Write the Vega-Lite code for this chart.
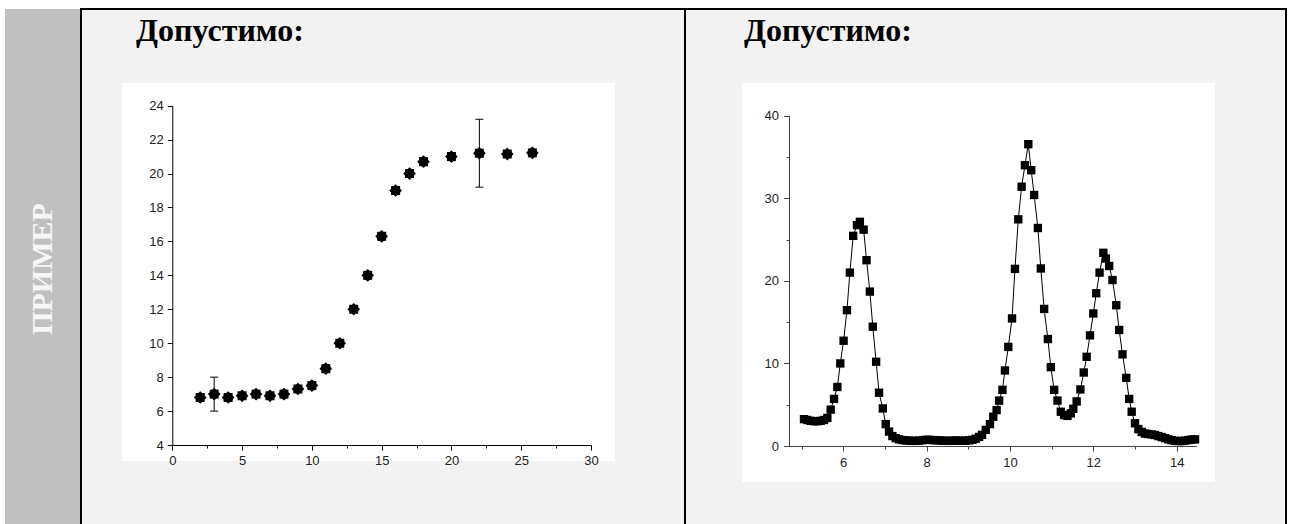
{
  "$schema": "https://vega.github.io/schema/vega-lite/v6.json",
  "background": "white",
  "padding": {"left": 5, "top": 8, "right": 0, "bottom": 0},
  "spacing": 0,
  "bounds": "flush",
  "config": {
    "view": {"stroke": "black", "strokeWidth": 2},
    "axis": {"grid": false, "labelFont": "Liberation Sans", "labelFontSize": 13, "labelColor": "#222", "labelFlush": false, "labelOverlap": false, "labelBound": false, "domainWidth": 1, "tickWidth": 1},
    "title": {"font": "Liberation Serif", "fontSize": 32, "fontWeight": "bold", "color": "black", "anchor": "start", "frame": "group", "baseline": "alphabetic"}
  },
  "datasets": {
    "one": [{}],
    "growth": [
      {"x": 2, "y": 6.8}, {"x": 3, "y": 7.0}, {"x": 4, "y": 6.8}, {"x": 5, "y": 6.9}, {"x": 6, "y": 7.0},
      {"x": 7, "y": 6.9}, {"x": 8, "y": 7.0}, {"x": 9, "y": 7.3}, {"x": 10, "y": 7.5}, {"x": 11, "y": 8.5},
      {"x": 12, "y": 10.0}, {"x": 13, "y": 12.0}, {"x": 14, "y": 14.0}, {"x": 15, "y": 16.3}, {"x": 16, "y": 19.0},
      {"x": 17, "y": 20.0}, {"x": 18, "y": 20.7}, {"x": 20, "y": 21.0}, {"x": 22, "y": 21.2}, {"x": 24, "y": 21.15},
      {"x": 25.8, "y": 21.22}
    ],
    "errs": [
      {"x": 3, "lo": 6.0, "hi": 8.0},
      {"x": 22, "lo": 19.2, "hi": 23.2}
    ],
    "peaks": [
      {"x": 5.06, "y": 3.25}, {"x": 5.14, "y": 3.15}, {"x": 5.22, "y": 3.05}, {"x": 5.30, "y": 3.0}, {"x": 5.38, "y": 3.0},
      {"x": 5.46, "y": 3.05}, {"x": 5.54, "y": 3.15}, {"x": 5.62, "y": 3.4}, {"x": 5.70, "y": 4.4}, {"x": 5.78, "y": 5.7},
      {"x": 5.86, "y": 7.15}, {"x": 5.93, "y": 10.0}, {"x": 6.01, "y": 12.75}, {"x": 6.09, "y": 16.45}, {"x": 6.16, "y": 21.0},
      {"x": 6.24, "y": 25.45}, {"x": 6.33, "y": 26.75}, {"x": 6.40, "y": 27.15}, {"x": 6.49, "y": 26.2}, {"x": 6.56, "y": 22.5},
      {"x": 6.64, "y": 18.7}, {"x": 6.71, "y": 14.45}, {"x": 6.79, "y": 10.2}, {"x": 6.86, "y": 6.45}, {"x": 6.95, "y": 4.55},
      {"x": 7.02, "y": 2.65}, {"x": 7.10, "y": 1.75}, {"x": 7.18, "y": 1.2}, {"x": 7.26, "y": 0.95}, {"x": 7.34, "y": 0.8},
      {"x": 7.42, "y": 0.72}, {"x": 7.50, "y": 0.68}, {"x": 7.58, "y": 0.65}, {"x": 7.66, "y": 0.62}, {"x": 7.74, "y": 0.62},
      {"x": 7.82, "y": 0.65}, {"x": 7.90, "y": 0.7}, {"x": 7.98, "y": 0.75}, {"x": 8.06, "y": 0.75}, {"x": 8.14, "y": 0.72},
      {"x": 8.22, "y": 0.7}, {"x": 8.30, "y": 0.68}, {"x": 8.38, "y": 0.65}, {"x": 8.46, "y": 0.63}, {"x": 8.54, "y": 0.62},
      {"x": 8.62, "y": 0.64}, {"x": 8.70, "y": 0.66}, {"x": 8.78, "y": 0.65}, {"x": 8.86, "y": 0.63}, {"x": 8.94, "y": 0.64},
      {"x": 9.02, "y": 0.68}, {"x": 9.10, "y": 0.75}, {"x": 9.18, "y": 0.88}, {"x": 9.26, "y": 1.1}, {"x": 9.33, "y": 1.35},
      {"x": 9.42, "y": 1.95}, {"x": 9.52, "y": 2.65}, {"x": 9.60, "y": 3.55}, {"x": 9.68, "y": 4.35}, {"x": 9.74, "y": 5.5},
      {"x": 9.82, "y": 6.8}, {"x": 9.88, "y": 9.15}, {"x": 9.96, "y": 12.0}, {"x": 10.05, "y": 15.45}, {"x": 10.12, "y": 21.45},
      {"x": 10.20, "y": 27.45}, {"x": 10.28, "y": 31.4}, {"x": 10.36, "y": 34.0}, {"x": 10.44, "y": 36.55}, {"x": 10.51, "y": 33.4},
      {"x": 10.58, "y": 30.4}, {"x": 10.67, "y": 26.4}, {"x": 10.74, "y": 21.5}, {"x": 10.82, "y": 16.6}, {"x": 10.91, "y": 12.95},
      {"x": 10.98, "y": 9.55}, {"x": 11.06, "y": 6.8}, {"x": 11.14, "y": 5.5}, {"x": 11.22, "y": 4.15}, {"x": 11.30, "y": 3.75},
      {"x": 11.38, "y": 3.65}, {"x": 11.46, "y": 3.95}, {"x": 11.52, "y": 4.5}, {"x": 11.60, "y": 5.4}, {"x": 11.69, "y": 6.85},
      {"x": 11.77, "y": 8.9}, {"x": 11.84, "y": 10.8}, {"x": 11.92, "y": 13.4}, {"x": 12.00, "y": 16.05}, {"x": 12.07, "y": 18.5},
      {"x": 12.15, "y": 21.0}, {"x": 12.24, "y": 23.4}, {"x": 12.30, "y": 22.7}, {"x": 12.38, "y": 21.8}, {"x": 12.46, "y": 20.1},
      {"x": 12.55, "y": 17.05}, {"x": 12.62, "y": 14.05}, {"x": 12.70, "y": 11.1}, {"x": 12.79, "y": 8.25}, {"x": 12.86, "y": 5.7},
      {"x": 12.92, "y": 4.15}, {"x": 13.00, "y": 2.75}, {"x": 13.08, "y": 2.05}, {"x": 13.16, "y": 1.7}, {"x": 13.24, "y": 1.5},
      {"x": 13.32, "y": 1.45}, {"x": 13.40, "y": 1.4}, {"x": 13.48, "y": 1.33}, {"x": 13.56, "y": 1.2}, {"x": 13.64, "y": 1.08},
      {"x": 13.72, "y": 0.95}, {"x": 13.80, "y": 0.8}, {"x": 13.88, "y": 0.7}, {"x": 13.96, "y": 0.62}, {"x": 14.04, "y": 0.6},
      {"x": 14.12, "y": 0.6}, {"x": 14.20, "y": 0.65}, {"x": 14.28, "y": 0.72}, {"x": 14.36, "y": 0.78}, {"x": 14.44, "y": 0.8}
    ]
  },
  "hconcat": [
    {
      "width": 76,
      "height": 520,
      "view": {"fill": "#c0c0c0"},
      "data": {"name": "one"},
      "mark": {"type": "text", "text": "ПРИМЕР", "angle": 270, "font": "Liberation Serif", "fontSize": 30, "fontWeight": "bold", "color": "#f6f6f6", "align": "center", "baseline": "middle"},
      "encoding": {}
    },
    {
      "width": 604,
      "height": 520,
      "view": {"fill": "#f2f2f2"},
      "title": {"text": "Допустимо:", "offset": -39, "dx": 55},
      "layer": [
        {
          "data": {"name": "one"},
          "mark": {"type": "rect", "fill": "white", "strokeWidth": 0},
          "encoding": {
            "x": {"datum": -3.6, "type": "quantitative", "title": null, "scale": {"domain": [0, 30], "range": [91.3, 510], "nice": false, "zero": false}, "axis": {"values": [0, 2.5, 5, 7.5, 10, 12.5, 15, 17.5, 20, 22.5, 25, 27.5, 30], "format": "d", "labelExpr": "datum.value % 5 == 0 ? datum.label : ''", "tickSize": {"condition": {"test": "datum.value % 5 == 0", "value": 5}, "value": 3}, "offset": -84, "domainColor": "black", "tickColor": "black", "labelPadding": 4, "zindex": 1, "title": null}},
            "x2": {"datum": 31.72},
            "y": {"datum": 25.34, "type": "quantitative", "title": null, "scale": {"domain": [4, 24], "range": [436, 96.7], "nice": false, "zero": false}, "axis": {"values": [4, 5, 6, 7, 8, 9, 10, 11, 12, 13, 14, 15, 16, 17, 18, 19, 20, 21, 22, 23, 24], "format": "d", "labelExpr": "datum.value % 2 == 0 ? datum.label : ''", "tickSize": {"condition": {"test": "datum.value % 2 == 0", "value": 5}, "value": 3}, "offset": -91.3, "domainColor": "black", "tickColor": "black", "labelPadding": 4, "zindex": 1, "title": null}},
            "y2": {"datum": 3.06}
          }
        },
        {
          "data": {"name": "errs"},
          "mark": {"type": "rule", "color": "black", "strokeWidth": 1},
          "encoding": {
            "x": {"field": "x", "type": "quantitative", "title": null},
            "y": {"field": "lo", "type": "quantitative", "title": null},
            "y2": {"field": "hi"}
          }
        },
        {
          "data": {"name": "errs"},
          "mark": {"type": "tick", "orient": "horizontal", "size": 8, "thickness": 1, "color": "black", "opacity": 1},
          "encoding": {
            "x": {"field": "x", "type": "quantitative", "title": null},
            "y": {"field": "lo", "type": "quantitative", "title": null}
          }
        },
        {
          "data": {"name": "errs"},
          "mark": {"type": "tick", "orient": "horizontal", "size": 8, "thickness": 1, "color": "black", "opacity": 1},
          "encoding": {
            "x": {"field": "x", "type": "quantitative", "title": null},
            "y": {"field": "hi", "type": "quantitative", "title": null}
          }
        },
        {
          "data": {"name": "growth"},
          "mark": {"type": "point", "shape": "M1,0L0.721,0.299L0.707,0.707L0.299,0.721L0,1L-0.299,0.721L-0.707,0.707L-0.721,0.299L-1,0L-0.721,-0.299L-0.707,-0.707L-0.299,-0.721L0,-1L0.299,-0.721L0.707,-0.707L0.721,-0.299Z", "filled": true, "color": "black", "size": 160, "opacity": 1},
          "encoding": {
            "x": {"field": "x", "type": "quantitative", "title": null},
            "y": {"field": "y", "type": "quantitative", "title": null}
          }
        }
      ]
    },
    {
      "width": 601,
      "height": 520,
      "view": {"fill": "#f2f2f2"},
      "title": {"text": "Допустимо:", "offset": -39, "dx": 59},
      "layer": [
        {
          "data": {"name": "one"},
          "mark": {"type": "rect", "fill": "white", "strokeWidth": 0},
          "encoding": {
            "x": {"datum": 3.573, "type": "quantitative", "title": null, "scale": {"domain": [4.7, 14.47], "range": [104, 511.3], "nice": false, "zero": false}, "axis": {"values": [5, 6, 7, 8, 9, 10, 11, 12, 13, 14], "format": "d", "labelExpr": "datum.value % 2 == 0 ? datum.label : ''", "tickSize": {"condition": {"test": "datum.value % 2 == 0", "value": 5}, "value": 3}, "offset": -83, "domainColor": "#444", "tickColor": "#444", "labelPadding": 5, "zindex": 1, "title": null}},
            "x2": {"datum": 14.918},
            "y": {"datum": 43.96, "type": "quantitative", "title": null, "scale": {"domain": [0, 40], "range": [437, 106.7], "nice": false, "zero": false}, "axis": {"values": [0, 5, 10, 15, 20, 25, 30, 35, 40], "format": "d", "labelExpr": "datum.value % 10 == 0 ? datum.label : ''", "tickSize": {"condition": {"test": "datum.value % 10 == 0", "value": 5.5}, "value": 3}, "offset": -104, "domainColor": "#444", "tickColor": "#444", "labelPadding": 5, "zindex": 1, "title": null}},
            "y2": {"datum": -4.36}
          }
        },
        {
          "data": {"name": "peaks"},
          "mark": {"type": "line", "color": "black", "strokeWidth": 1},
          "encoding": {
            "x": {"field": "x", "type": "quantitative", "title": null},
            "y": {"field": "y", "type": "quantitative", "title": null}
          }
        },
        {
          "data": {"name": "peaks"},
          "mark": {"type": "point", "shape": "square", "filled": true, "color": "black", "size": 70, "opacity": 1},
          "encoding": {
            "x": {"field": "x", "type": "quantitative", "title": null},
            "y": {"field": "y", "type": "quantitative", "title": null}
          }
        }
      ]
    }
  ]
}
